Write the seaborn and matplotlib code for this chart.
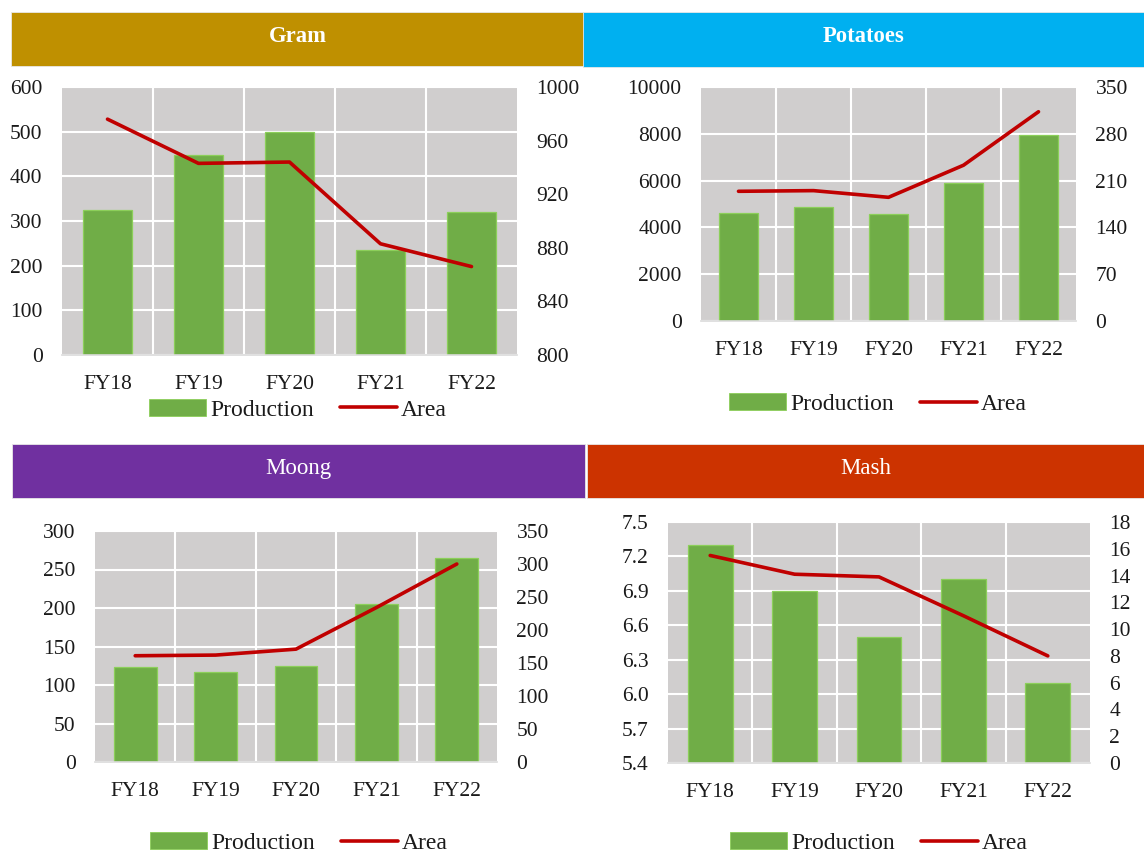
import numpy as np
import matplotlib
matplotlib.use("Agg")
import matplotlib.pyplot as plt
from matplotlib.patches import Rectangle
from matplotlib.lines import Line2D
from matplotlib.ticker import FixedLocator
import seaborn as sns

# ---- data ----
years = ["FY18", "FY19", "FY20", "FY21", "FY22"]

gram_production = [324, 448, 500, 235, 320]
gram_area = [976, 943, 944, 883, 866]

potato_production = [4600, 4880, 4560, 5890, 7970]
potato_area = [194, 195, 185, 233, 313]

moong_production = [123, 117, 125, 205, 265]
moong_area = [161, 162, 171, 234, 300]

mash_production = [7.3, 6.9, 6.5, 7.0, 6.1]
mash_area = [15.5, 14.1, 13.9, 11.0, 8.0]

titles = ["Gram", "Potatoes", "Moong", "Mash"]

# ---- style ----
sns.set_style("white")
plt.rcParams["font.family"] = ["Liberation Serif", "DejaVu Serif"]

W, H = 1144, 855
fig = plt.figure(figsize=(W / 100, H / 100), dpi=100)

BAR_GREEN = "#70AD47"
BAR_EDGE = "#8CCF5A"
LINE_RED = "#C00000"
PLOT_BG = "#D0CECE"
TXT = "#1a1a1a"
FS = 15.5
LEG_FS = 17


def px_rect(x0, y0, x1, y1):
    return [x0 / W, 1 - y1 / H, (x1 - x0) / W, (y1 - y0) / H]


def banner(x0, y0, x1, y1, color, text, bold):
    fig.patches.append(Rectangle((x0 / W, 1 - y1 / H), (x1 - x0) / W, (y1 - y0) / H,
                                 transform=fig.transFigure, facecolor=color,
                                 edgecolor="#e8e8e8", linewidth=0.6, zorder=0))
    fig.text((x0 + x1) / 2 / W, 1 - ((y0 + y1) / 2 - 2.5) / H, text, color="white",
             ha="center", va="center", fontsize=16.3 if bold else 16.5,
             fontweight="bold" if bold else "normal")


def panel(rect, production, area, left_ticks, right_ticks, left_fmt, legend_xy):
    ax = fig.add_axes(px_rect(*rect))
    ax.set_facecolor(PLOT_BG)
    sns.barplot(x=years, y=production, ax=ax, color=BAR_GREEN, saturation=1,
                width=0.53, edgecolor=BAR_EDGE, linewidth=0.9, errorbar=None)
    ax.set_xlim(-0.5, len(years) - 0.5)
    ax.set_ylim(left_ticks[0], left_ticks[-1])
    ax.yaxis.set_major_locator(FixedLocator(left_ticks))
    ax.set_yticklabels([left_fmt.format(v) for v in left_ticks])
    ax.xaxis.set_minor_locator(FixedLocator(np.arange(0.5, len(years) - 0.5, 1.0)))
    ax.set_axisbelow(True)
    ax.grid(True, axis="y", which="major", color="white", linewidth=1.5)
    ax.grid(True, axis="x", which="minor", color="white", linewidth=1.5)
    ax.grid(False, axis="x", which="major")
    for side in ["top", "left", "right"]:
        ax.spines[side].set_visible(False)
    ax.spines["bottom"].set_color("#DADADA")
    ax.spines["bottom"].set_linewidth(1.2)
    ax.tick_params(axis="y", length=0, pad=14, labelsize=FS, labelcolor=TXT)
    ax.tick_params(axis="x", which="both", length=0, pad=14.5, labelsize=FS, labelcolor=TXT)
    ax.set_xlabel("")
    ax.set_ylabel("")

    ax2 = ax.twinx()
    sns.lineplot(x=np.arange(len(years)), y=area, ax=ax2, color=LINE_RED,
                 linewidth=2.6, legend=False)
    ax2.set_ylim(right_ticks[0], right_ticks[-1])
    ax2.yaxis.set_major_locator(FixedLocator(right_ticks))
    ax2.set_yticklabels([str(v) for v in right_ticks])
    ax2.tick_params(axis="y", length=0, pad=14, labelsize=FS, labelcolor=TXT)
    ax2.grid(False)
    for side in ["top", "left", "right", "bottom"]:
        ax2.spines[side].set_visible(False)
    ax2.set_ylabel("")

    handles = [Rectangle((0, 0), 1, 1, facecolor=BAR_GREEN, edgecolor=BAR_EDGE, linewidth=0.6),
               Line2D([0], [0], color=LINE_RED, linewidth=2.6)]
    fig.legend(handles, ["Production", "Area"], loc="center",
               bbox_to_anchor=(legend_xy[0] / W, 1 - legend_xy[1] / H),
               ncol=2, frameon=False, fontsize=LEG_FS, handlelength=2.4,
               handleheight=0.75, handletextpad=0.2, columnspacing=1.1,
               labelcolor=TXT)


banner(11, 12, 584, 66, "#BF9000", titles[0], True)
banner(583, 12, 1144, 67, "#00B0F0", titles[1], True)
banner(12, 444, 585, 498, "#7030A0", titles[2], False)
banner(587, 444, 1144, 498, "#CC3300", titles[3], False)

panel((62, 87, 517, 355), gram_production, gram_area,
      [0, 100, 200, 300, 400, 500, 600], [800, 840, 880, 920, 960, 1000],
      "{:d}", (298, 410))
panel((701, 87, 1076, 321), potato_production, potato_area,
      [0, 2000, 4000, 6000, 8000, 10000], [0, 70, 140, 210, 280, 350],
      "{:d}", (878, 404))
panel((95, 531, 497, 762), moong_production, moong_area,
      [0, 50, 100, 150, 200, 250, 300], [0, 50, 100, 150, 200, 250, 300, 350],
      "{:d}", (299, 843))
panel((668, 522, 1090, 763), mash_production, mash_area,
      [5.4, 5.7, 6.0, 6.3, 6.6, 6.9, 7.2, 7.5], [0, 2, 4, 6, 8, 10, 12, 14, 16, 18],
      "{:.1f}", (879, 843))

fig.savefig("out.png", dpi=100, facecolor="white")
